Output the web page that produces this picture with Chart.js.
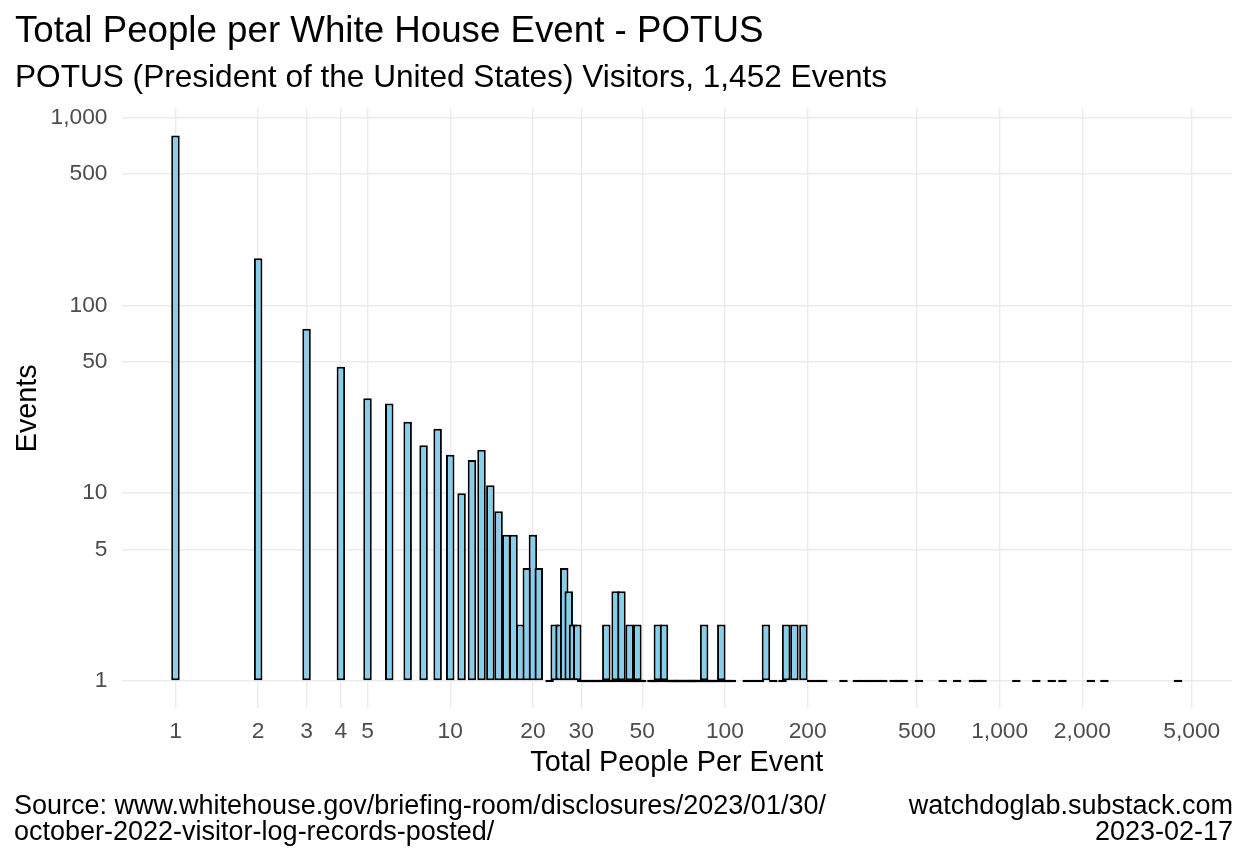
<!DOCTYPE html>
<html>
<head>
<meta charset="utf-8">
<title>Total People per White House Event - POTUS</title>
<script src="https://cdn.jsdelivr.net/npm/chart.js"></script>
<style>
  body { margin: 0; background: #ffffff; }
  #wrap { position: relative; width: 1248px; height: 864px; font-family: 'Liberation Sans', Arial, sans-serif; }
  #eventsChart { position: absolute; left: 0; top: 0; display: block; }
  .cap { position: absolute; font-size: 27px; line-height: 27px; color: #000000; white-space: nowrap; }
</style>
</head>
<body>
<div id="wrap">
  <canvas id="eventsChart" width="1248" height="864"></canvas>
  <div class="cap" style="left:14px; top:792px">Source: www.whitehouse.gov/briefing-room/disclosures/2023/01/30/</div>
  <div class="cap" style="left:14px; top:818px">october-2022-visitor-log-records-posted/</div>
  <div class="cap" style="right:15px; top:792px">watchdoglab.substack.com</div>
  <div class="cap" style="right:15px; top:818px">2023-02-17</div>
</div>
<script>
// total people per event (one bar per distinct value) and how many events had it
const peoplePerEvent = [
  1, 2, 3, 4, 5, 6, 7, 8, 9, 10, 11, 12, 13, 14, 15, 16, 17, 18, 19, 20, 21,
  23, 24, 25, 26, 27, 28, 29, 30, 31, 32, 33, 34, 35, 36, 37, 38, 39, 40,
  41, 42, 43, 44, 45, 46, 47, 48, 49, 50,
  54, 55, 56, 57, 58, 60, 61, 62, 64, 65, 66, 67, 68, 69, 71, 72, 73,
  75, 76, 77, 78, 80, 82, 84, 85, 86, 88, 90, 92, 94, 97, 98, 101, 104, 106,
  120, 127, 134, 141, 150, 162, 167, 179, 193, 206, 217, 228,
  270, 302, 320, 338, 357, 377, 411, 429, 447, 508, 620, 700,
  799, 832, 866, 1150, 1360, 1546, 1692, 2146, 2406, 4458
];
const eventCount = [
  800, 178, 75, 47, 32, 30, 24, 18, 22, 16, 10, 15, 17, 11, 8, 6, 6, 2, 4, 6, 4,
  1, 2, 2, 4, 3, 2, 2, 1, 1, 1, 1, 1, 1, 1, 2, 1, 1, 3,
  1, 3, 1, 1, 2, 1, 1, 2, 1, 1,
  1, 1, 1, 2, 1, 2, 1, 1, 1, 1, 1, 1, 1, 1, 1, 1, 1,
  1, 1, 1, 1, 1, 1, 2, 1, 1, 1, 1, 1, 1, 2, 1, 1, 1, 1,
  1, 1, 1, 2, 1, 1, 2, 2, 2, 1, 1, 1,
  1, 1, 1, 1, 1, 1, 1, 1, 1, 1, 1, 1,
  1, 1, 1, 1, 1, 1, 1, 1, 1, 1
];

const xTickValues = [1, 2, 3, 4, 5, 10, 20, 30, 50, 100, 200, 500, 1000, 2000, 5000];
const yTickValues = [1, 5, 10, 50, 100, 500, 1000];

const chartTitle = 'Total People per White House Event - POTUS';
const chartSubtitle = 'POTUS (President of the United States) Visitors, 1,452 Events';

Chart.defaults.font.family = "'Liberation Sans', Arial, sans-serif";

// ggplot style 5% expansion on the log axes
const halfBar = 0.0127;
const xLo = Math.log10(Math.min(...peoplePerEvent)) - halfBar;
const xHi = Math.log10(Math.max(...peoplePerEvent)) + halfBar;
const xPad = 0.05 * (xHi - xLo);
const yTop = Math.log10(Math.max(...eventCount));

const fmt = v => Number(v).toLocaleString('en-US');
const gridStyle = { color: '#EBEBEB', lineWidth: 1.4, drawTicks: false, offset: false };

const Events = document.getElementById('eventsChart');

new Chart(Events, {
  type: 'bar',
  data: {
    labels: peoplePerEvent,
    datasets: [{
      label: 'Events',
      data: eventCount,
      base: 1,
      backgroundColor: '#87CEEB',
      borderColor: '#000000',
      borderWidth: 2,
      borderSkipped: false,
      barThickness: 8.5,
      minBarLength: 2.4,
      inflateAmount: 0
    }]
  },
  options: {
    responsive: false,
    animation: false,
    layout: { padding: { left: 15, right: 16, top: 0, bottom: 83.7 } },
    plugins: {
      legend: { display: false },
      tooltip: { enabled: false },
      title: {
        display: true,
        text: chartTitle,
        align: 'start',
        color: '#000000',
        font: { size: 36.7, weight: 'normal', lineHeight: 1.2 },
        padding: { top: 9.5, bottom: 0 }
      },
      subtitle: {
        display: true,
        text: chartSubtitle,
        align: 'start',
        color: '#000000',
        font: { size: 31.6, weight: 'normal', lineHeight: 1.2 },
        padding: { top: 5.4, bottom: 11.4 }
      }
    },
    scales: {
      x: {
        type: 'logarithmic',
        bounds: 'data',
        min: Math.pow(10, xLo - xPad),
        max: Math.pow(10, xHi + xPad),
        offset: false,
        grid: gridStyle,
        border: { display: false },
        afterBuildTicks: s => { s.ticks = xTickValues.map(v => ({ value: v })); },
        afterFit: s => { s.height = 72; },
        ticks: {
          autoSkip: false,
          maxRotation: 0,
          padding: 10,
          color: '#4D4D4D',
          font: { size: 22.8 },
          callback: fmt
        },
        title: {
          display: true,
          text: 'Total People Per Event',
          color: '#000000',
          font: { size: 28.8, lineHeight: 1.2 },
          padding: { top: 0, bottom: 0 }
        }
      },
      y: {
        type: 'logarithmic',
        bounds: 'data',
        min: Math.pow(10, -0.05 * yTop),
        max: Math.pow(10, 1.05 * yTop),
        grid: gridStyle,
        border: { display: false },
        afterBuildTicks: s => { s.ticks = yTickValues.map(v => ({ value: v })); },
        afterFit: s => { s.width = 106.5; },
        ticks: {
          padding: 14,
          color: '#4D4D4D',
          font: { size: 22.8 },
          callback: fmt
        },
        title: {
          display: true,
          text: 'Events',
          color: '#000000',
          font: { size: 28.8, lineHeight: 0.9 },
          padding: { top: 0, bottom: 0 }
        }
      }
    }
  }
});
</script>
</body>
</html>
